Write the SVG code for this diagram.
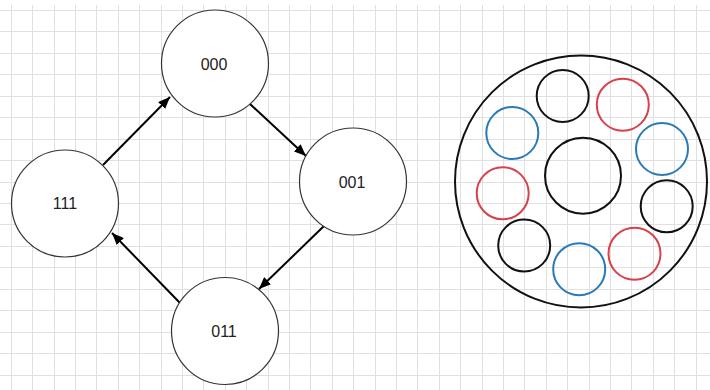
<svg xmlns="http://www.w3.org/2000/svg" width="710" height="390" viewBox="0 0 710 390">
<defs>
<style>
.grid{stroke:#e0e0e0;stroke-width:1;fill:none}
.node{fill:#fff;stroke:#333;stroke-width:1.2}
.lbl{font-family:"Liberation Sans",Arial,sans-serif;font-size:16px;fill:#222;text-anchor:middle;dominant-baseline:central}
.edge{stroke:#000;stroke-width:2;fill:none;marker-end:url(#ah)}
.k{fill:none;stroke:#111;stroke-width:2}
.b{fill:none;stroke:#2a7ab8;stroke-width:2}
.r{fill:none;stroke:#d9404a;stroke-width:2}
</style>
<marker id="ah" markerUnits="userSpaceOnUse" markerWidth="12" markerHeight="10" refX="12" refY="5" orient="auto">
<path d="M0,0 L12,5 L0,10 z" fill="#000"/>
</marker>
</defs>
<rect width="710" height="390" fill="#fff"/>
<path class="grid" d="M11.5 5V390M32.5 5V390M54.5 5V390M75.5 5V390M96.5 5V390M118.5 5V390M139.5 5V390M161.5 5V390M182.5 5V390M203.5 5V390M225.5 5V390M246.5 5V390M268.5 5V390M289.5 5V390M310.5 5V390M332.5 5V390M353.5 5V390M375.5 5V390M396.5 5V390M417.5 5V390M439.5 5V390M460.5 5V390M482.5 5V390M503.5 5V390M524.5 5V390M546.5 5V390M567.5 5V390M589.5 5V390M610.5 5V390M631.5 5V390M653.5 5V390M674.5 5V390M696.5 5V390M0 10.5H710M0 31.5H710M0 53.5H710M0 74.5H710M0 96.5H710M0 117.5H710M0 139.5H710M0 160.5H710M0 182.5H710M0 203.5H710M0 224.5H710M0 246.5H710M0 267.5H710M0 289.5H710M0 310.5H710M0 332.5H710M0 353.5H710M0 375.5H710"/>
<g id="connectors">
<line class="edge" x1="103" y1="165" x2="170" y2="97"/>
<line class="edge" x1="250" y1="104" x2="306" y2="156"/>
<line class="edge" x1="324" y1="226" x2="259" y2="289"/>
<line class="edge" x1="180" y1="303" x2="112" y2="233"/>
</g>
<g id="n000"><circle class="node" cx="215" cy="63.5" r="53.5"/><text class="lbl" x="214" y="64">000</text></g>
<g id="n001"><circle class="node" cx="353" cy="181.5" r="53.5"/><text class="lbl" x="352" y="182">001</text></g>
<g id="n011"><circle class="node" cx="225" cy="331" r="53.5"/><text class="lbl" x="224" y="331">011</text></g>
<g id="n111"><circle class="node" cx="65" cy="203.5" r="53.5"/><text class="lbl" x="65" y="203">111</text></g>
<g id="ring">
<circle class="k" cx="581" cy="181.5" r="126" stroke-width="2.5"/>
<circle class="k" cx="583" cy="175.7" r="38"/>
<circle class="k" cx="562.7" cy="96" r="26"/>
<circle class="r" cx="622.8" cy="104.7" r="26" stroke="#d42630"/>
<circle class="b" cx="512.3" cy="133" r="26"/>
<circle class="b" cx="662" cy="149" r="26"/>
<circle class="r" cx="502.7" cy="193.3" r="26"/>
<circle class="k" cx="666.7" cy="206.3" r="26"/>
<circle class="k" cx="524.2" cy="245.5" r="26"/>
<circle class="b" cx="579.2" cy="269.2" r="26"/>
<circle class="r" cx="634.5" cy="253.7" r="26"/>
</g>
</svg>
